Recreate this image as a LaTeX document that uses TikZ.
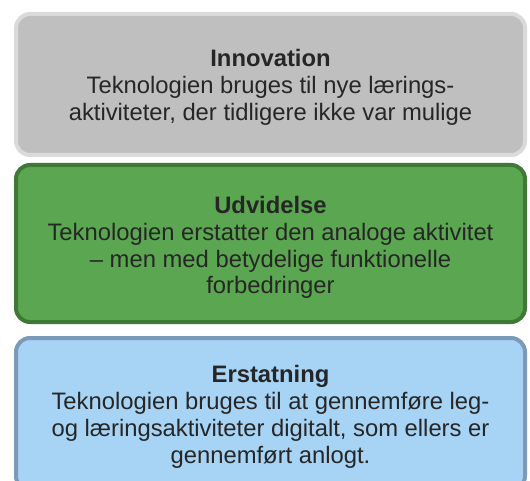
\documentclass[tikz,border=0pt]{standalone}
\usepackage{fontspec}
\setmainfont{Liberation Sans}
\usepackage{xcolor}
\usepackage{tikz}
\usetikzlibrary{positioning}
\definecolor{lvInk}    {RGB}{ 38, 38, 38}
\definecolor{lvGrey}   {RGB}{191,191,191}
\definecolor{lvGreyD}  {RGB}{218,218,218}
\definecolor{lvGreen}  {RGB}{ 91,166, 80}
\definecolor{lvGreenD} {RGB}{ 64,120, 56}
\definecolor{lvBlue}   {RGB}{167,211,244}
\definecolor{lvBlueD}  {RGB}{122,154,184}

\begin{document}
\begin{tikzpicture}[
    x=1pt,y=-1pt,
    every node/.style={font=\fontsize{23.8}{26.8}\selectfont,align=center,text=lvInk},
    level/.style={rectangle,rounded corners=14pt,line width=4pt,
                  minimum width=509pt,inner sep=0pt},
    innov/.style={level,fill=lvGrey,draw=lvGreyD,minimum height=141pt},
    udvid/.style={level,fill=lvGreen,draw=lvGreenD,minimum height=157pt},
    erstat/.style={level,fill=lvBlue,draw=lvBlueD,minimum height=152pt},
    txt/.style={inner sep=0pt}
  ]
  \useasboundingbox (0,0) rectangle (530,481);
  \clip (0,0) rectangle (530,481);
  % SAMR levels, top to bottom
  \node[innov]  (inno) at (270.5,84.5) {};
  \node[udvid]  (udv)  at (270.5,243.5) {};
  \node[erstat] (erst) at (270.5,414) {};
  % level texts, a little below the box centres
  \node[txt] (innoT) at ([yshift=-3pt]inno.center)
    {\textbf{Innovation}\\Teknologien bruges til nye lærings-\\
     aktiviteter, der tidligere ikke var mulige};
  \node[txt] (udvT) at ([yshift=-4pt]udv.center)
    {\textbf{Udvidelse}\\Teknologien erstatter den analoge aktivitet\\
     – men med betydelige funktionelle\\forbedringer};
  \node[txt] (erstT) at ([yshift=-3pt]erst.center)
    {\textbf{Erstatning}\\Teknologien bruges til at gennemføre leg-\\
     og læringsaktiviteter digitalt, som ellers er\\gennemført anlogt.};
\end{tikzpicture}
\end{document}
